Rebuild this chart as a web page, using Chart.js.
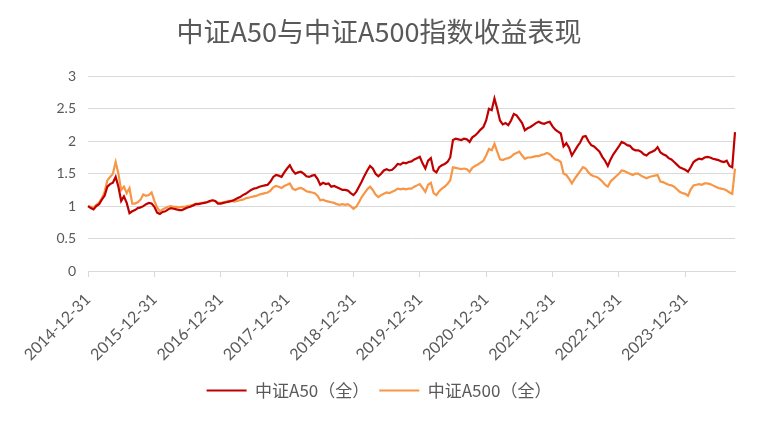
<!DOCTYPE html>
<html>
<head>
<meta charset="utf-8">
<title>中证A50与中证A500指数收益表现</title>
<script src="https://cdn.jsdelivr.net/npm/chart.js@4.4.1/dist/chart.umd.min.js"></script>
<style>
    body { margin: 0; background: #fff; }
    .chartBox { width: 758px; height: 422px; }
</style>
</head>
<body>
<div class="chartBox"><canvas id="myChart"></canvas></div>
<script>
'use strict';

// =========================
// ======= DATA ============
//==========================

var chartTitle = '中证A50与中证A500指数收益表现';
var seriesNames = ['中证A50（全）', '中证A500（全）'];
var yearTicks = ['2014-12-31', '2015-12-31', '2016-12-31', '2017-12-31', '2018-12-31',
    '2019-12-31', '2020-12-31', '2021-12-31', '2022-12-31', '2023-12-31'];

// half-month samples, 2014-12-31 .. 2024-09-30
var a50 = [
    1.00, 0.97, 0.95, 1.00, 1.03, 1.10, 1.16, 1.30, 1.34, 1.36, 1.45, 1.30, 1.08, 1.15, 1.05, 0.89, 0.92, 0.94, 0.97, 0.98, 1.00, 1.03, 1.05, 1.04, 0.99,
    0.90, 0.88, 0.91, 0.92, 0.95, 0.97, 0.96, 0.95, 0.94, 0.94, 0.96, 0.98, 0.99, 1.01, 1.03, 1.03, 1.04, 1.05, 1.06, 1.08, 1.09, 1.08, 1.04, 1.04,
    1.05, 1.06, 1.07, 1.08, 1.10, 1.12, 1.14, 1.17, 1.19, 1.22, 1.25, 1.27, 1.28, 1.30, 1.31, 1.32, 1.33, 1.38, 1.45, 1.48, 1.47, 1.45, 1.52, 1.58,
    1.63, 1.55, 1.50, 1.52, 1.53, 1.50, 1.46, 1.45, 1.47, 1.48, 1.42, 1.33, 1.36, 1.34, 1.35, 1.30, 1.31, 1.29, 1.27, 1.25, 1.25, 1.24, 1.20, 1.17,
    1.22, 1.30, 1.38, 1.47, 1.55, 1.62, 1.58, 1.50, 1.46, 1.50, 1.55, 1.57, 1.55, 1.56, 1.60, 1.65, 1.64, 1.67, 1.66, 1.68, 1.69, 1.72, 1.74, 1.76,
    1.66, 1.58, 1.70, 1.74, 1.55, 1.52, 1.60, 1.63, 1.65, 1.68, 1.75, 2.02, 2.04, 2.03, 2.02, 2.04, 2.03, 1.99, 2.06, 2.09, 2.13, 2.18, 2.22, 2.32,
    2.50, 2.48, 2.66, 2.50, 2.32, 2.26, 2.28, 2.25, 2.32, 2.42, 2.40, 2.34, 2.28, 2.17, 2.20, 2.22, 2.25, 2.28, 2.30, 2.28, 2.27, 2.29, 2.30, 2.23,
    2.18, 2.15, 2.12, 1.92, 1.97, 1.90, 1.78, 1.85, 1.92, 1.98, 2.07, 2.08, 2.00, 1.94, 1.92, 1.88, 1.84, 1.76, 1.70, 1.62, 1.72, 1.80, 1.86, 1.92,
    1.99, 1.97, 1.94, 1.93, 1.88, 1.86, 1.86, 1.84, 1.80, 1.78, 1.82, 1.84, 1.86, 1.91, 1.83, 1.80, 1.78, 1.74, 1.72, 1.68, 1.64, 1.60, 1.58, 1.56,
    1.53, 1.60, 1.68, 1.71, 1.73, 1.72, 1.75, 1.76, 1.75, 1.73, 1.72, 1.71, 1.69, 1.68, 1.70, 1.62, 1.60, 2.14
];

var a500 = [
    1.00, 0.99, 0.98, 1.02, 1.05, 1.12, 1.22, 1.40, 1.45, 1.50, 1.68, 1.50, 1.25, 1.30, 1.20, 1.28, 1.04, 1.04, 1.06, 1.10, 1.18, 1.16, 1.17, 1.21, 1.08,
    0.98, 0.92, 0.95, 0.97, 0.99, 1.00, 0.99, 0.99, 0.98, 0.99, 0.99, 1.00, 1.01, 1.02, 1.04, 1.04, 1.05, 1.05, 1.06, 1.07, 1.09, 1.08, 1.05, 1.05,
    1.06, 1.07, 1.08, 1.08, 1.07, 1.08, 1.09, 1.10, 1.12, 1.13, 1.14, 1.15, 1.16, 1.18, 1.19, 1.20, 1.21, 1.24, 1.29, 1.31, 1.30, 1.28, 1.31, 1.33,
    1.35, 1.27, 1.25, 1.27, 1.28, 1.26, 1.23, 1.22, 1.21, 1.20, 1.16, 1.09, 1.10, 1.08, 1.07, 1.06, 1.05, 1.03, 1.02, 1.03, 1.02, 1.03, 1.00, 0.96,
    0.99, 1.06, 1.14, 1.20, 1.26, 1.30, 1.25, 1.18, 1.14, 1.17, 1.19, 1.21, 1.20, 1.22, 1.24, 1.27, 1.26, 1.27, 1.26, 1.27, 1.27, 1.30, 1.32, 1.34,
    1.28, 1.22, 1.33, 1.36, 1.20, 1.17, 1.23, 1.27, 1.30, 1.34, 1.40, 1.60, 1.59, 1.58, 1.57, 1.58, 1.57, 1.53, 1.59, 1.62, 1.64, 1.67, 1.70, 1.78,
    1.88, 1.86, 1.96, 1.84, 1.72, 1.71, 1.73, 1.74, 1.76, 1.80, 1.82, 1.84, 1.78, 1.73, 1.75, 1.75, 1.76, 1.77, 1.77, 1.79, 1.80, 1.82, 1.80, 1.76,
    1.72, 1.71, 1.68, 1.50, 1.48, 1.42, 1.35, 1.42, 1.48, 1.54, 1.60, 1.58, 1.52, 1.48, 1.46, 1.45, 1.42, 1.38, 1.33, 1.30, 1.38, 1.42, 1.46, 1.50,
    1.55, 1.54, 1.52, 1.50, 1.48, 1.50, 1.50, 1.47, 1.45, 1.43, 1.45, 1.46, 1.47, 1.48, 1.38, 1.37, 1.35, 1.33, 1.32, 1.30, 1.26, 1.22, 1.20, 1.19,
    1.16, 1.26, 1.32, 1.33, 1.34, 1.33, 1.35, 1.35, 1.34, 1.32, 1.30, 1.28, 1.27, 1.26, 1.24, 1.21, 1.19, 1.58
];

// dates: the 15th and the last day of every month
function pad(n) {
    return n < 10 ? '0' + n : '' + n;
}
var categories = ['2014-12-31'];
for (var y = 2015; categories.length < a50.length; y++) {
    for (var m = 1; m <= 12 && categories.length < a50.length; m++) {
        var last = new Date(y, m, 0).getDate();
        categories.push(y + '-' + pad(m) + '-15');
        categories.push(y + '-' + pad(m) + '-' + pad(last));
    }
}
categories = categories.slice(0, a50.length);

// =========================
// ======= CHART ==========
//==========================

var textColor = '#595959';
var gridColor = '#d9d9d9';
var cjk = "'Noto Sans CJK SC', 'Noto Sans', sans-serif";
var latin = "Lato, 'Noto Sans', sans-serif";

var ctx = document.getElementById('myChart').getContext('2d');

var chart = new Chart(ctx, {
    type: 'line',
    data: {
        labels: categories,
        datasets: [{
            label: seriesNames[0],
            data: a50,
            borderColor: '#C00000',
            backgroundColor: '#C00000',
            borderWidth: 2.2,
            pointRadius: 0,
            tension: 0
        },
        {
            label: seriesNames[1],
            data: a500,
            borderColor: '#F79646',
            backgroundColor: '#F79646',
            borderWidth: 2.2,
            pointRadius: 0,
            tension: 0
        }]
    },
    options: {
        responsive: true,
        maintainAspectRatio: false,
        animation: false,
        layout: {
            // same margin on both sides so title and legend sit in the middle
            padding: { left: 23, right: 23, top: 12, bottom: 13 }
        },
        plugins: {
            title: {
                display: true,
                text: chartTitle,
                color: textColor,
                font: { family: cjk, size: 27, weight: 'normal' },
                padding: { top: 4, bottom: 28 }
            },
            legend: {
                position: 'bottom',
                labels: {
                    color: textColor,
                    font: { family: cjk, size: 17 },
                    usePointStyle: true,
                    pointStyle: 'line',
                    pointStyleWidth: 40,
                    padding: 10
                }
            },
            tooltip: { enabled: false }
        },
        scales: {
            x: {
                afterBuildTicks: function (scale) {
                    // only the year-end dates get a label and a tick mark
                    scale.ticks = scale.ticks.filter(function (t) {
                        return yearTicks.indexOf(categories[t.value]) !== -1;
                    });
                },
                afterFit: function (scale) {
                    scale.height = 101;
                },
                ticks: {
                    autoSkip: false,
                    minRotation: 45,
                    maxRotation: 45,
                    color: textColor,
                    font: { family: latin, size: 16 },
                    padding: 13
                },
                grid: {
                    drawOnChartArea: false,
                    drawTicks: true,
                    tickLength: 6,
                    color: gridColor
                },
                border: { color: gridColor, width: 1 }
            },
            y: {
                min: 0,
                max: 3,
                afterFit: function (scale) {
                    scale.width = 65;
                },
                ticks: {
                    stepSize: 0.5,
                    color: textColor,
                    font: { family: latin, size: 14 },
                    padding: 12,
                    callback: function (value) {
                        return String(value);
                    }
                },
                grid: {
                    color: gridColor,
                    drawTicks: false
                },
                border: { display: false }
            }
        }
    }
});
</script>
</body>
</html>
